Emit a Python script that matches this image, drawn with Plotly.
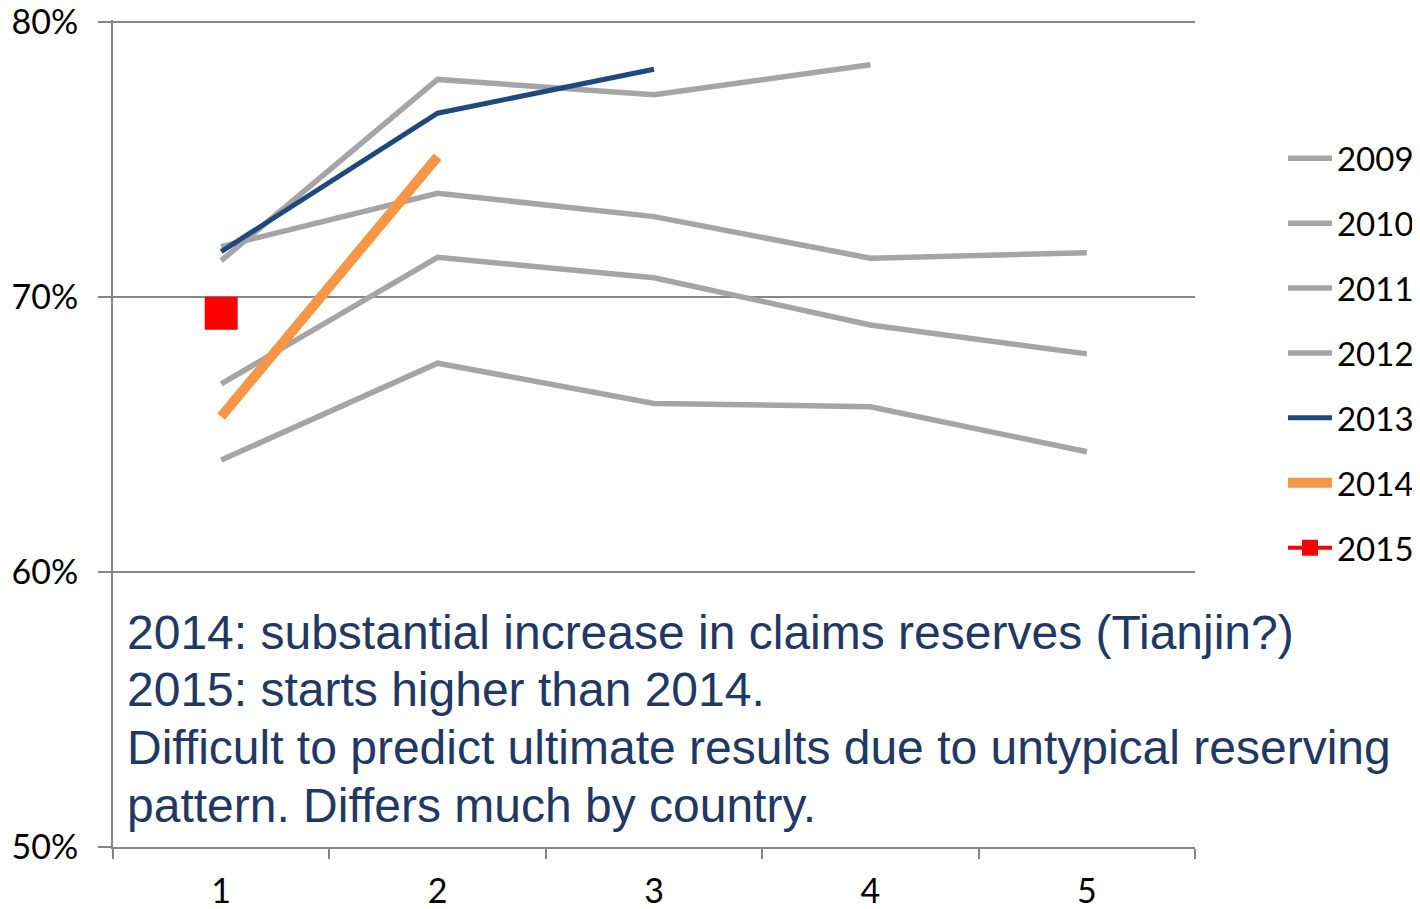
import plotly.graph_objects as go

dev_periods = ["1", "2", "3", "4", "5"]

years = ["2009", "2010", "2011", "2012", "2013", "2014", "2015"]

y2009 = [0.6407, 0.6759, 0.6613, 0.6601, 0.6437]
y2010 = [0.6684, 0.7144, 0.7070, 0.6898, 0.6793]
y2011 = [0.7183, 0.7377, 0.7292, 0.7141, 0.7161]
y2012 = [0.7132, 0.7791, 0.7735, 0.7844]
y2013 = [0.7165, 0.7668, 0.7828]
y2014 = [0.6565, 0.7510]
y2015 = [0.6941]

y_ticks = [0.5, 0.6, 0.7, 0.8]
y_ticklabels = ["50%", "60%", "70%", "80%"]

series = [y2009, y2010, y2011, y2012, y2013, y2014, y2015]

colors = ["#A5A5A5", "#A5A5A5", "#A5A5A5", "#A5A5A5", "#1F497D", "#F79646", "#FF0000"]
widths = [5.5, 5.5, 5.5, 5.5, 5, 10, 4]

notes = [
    "2014: substantial increase in claims reserves (Tianjin?)",
    "2015: starts higher than 2014.",
    "Difficult to predict ultimate results due to untypical reserving",
    "pattern. Differs much by country.",
]

fig = go.Figure()
for name, vals, c, w in zip(years, series, colors, widths):
    if name == "2015":
        fig.add_trace(go.Scatter(
            x=dev_periods[:len(vals)], y=vals, name=name, mode="lines+markers",
            line=dict(color=c, width=w),
            marker=dict(symbol="square", size=33, color=c),
            legendgroup=name,
        ))
    else:
        fig.add_trace(go.Scatter(
            x=dev_periods[:len(vals)], y=vals, name=name, mode="lines",
            line=dict(color=c, width=w),
            legendgroup=name,
        ))

axis_font = dict(family="Lato, Carlito, sans-serif", size=34, color="#000000")
legend_font = dict(family="Lato, Carlito, sans-serif", size=33, color="#000000")

# the page body has an 8px margin, so the figure is sized and placed to compensate
fig.update_layout(
    width=1412, height=901,
    margin=dict(l=105, r=225, t=12, b=62, autoexpand=False),
    paper_bgcolor="white", plot_bgcolor="white",
    showlegend=True,
    legend=dict(
        x=1.0813, xanchor="left", y=0.597, yanchor="middle",
        font=legend_font, tracegroupgap=19, itemwidth=44,
        bgcolor="rgba(0,0,0,0)",
    ),
    xaxis=dict(
        type="category", categoryorder="array", categoryarray=dev_periods,
        tickson="boundaries", ticks="outside", ticklen=10, tickwidth=2,
        tickcolor="#868686", showline=True, linecolor="#868686", linewidth=2,
        showgrid=False, tickfont=axis_font, ticklabelstandoff=13,
        range=[-0.5, 4.5], zeroline=False, automargin=False,
        ticklabeloverflow="allow",
    ),
    yaxis=dict(
        range=[0.5, 0.8007], tickmode="array", tickvals=y_ticks, ticktext=y_ticklabels,
        ticks="outside", ticklen=13, tickwidth=2, tickcolor="#868686",
        showline=True, linecolor="#868686", linewidth=2,
        showgrid=True, gridcolor="#868686", gridwidth=2,
        tickfont=axis_font, ticklabelstandoff=13, zeroline=False,
        automargin=False, ticklabeloverflow="allow",
    ),
)

note_y = [0.2594, 0.1903, 0.1200, 0.0497]
for txt, yy in zip(notes, note_y):
    fig.add_annotation(
        text=txt, xref="paper", yref="paper", x=0.011, y=yy,
        xanchor="left", yanchor="middle", showarrow=False,
        font=dict(family="Liberation Sans, Arial, sans-serif", size=48, color="#1F3864"),
    )

fig.write_html("out.html")
